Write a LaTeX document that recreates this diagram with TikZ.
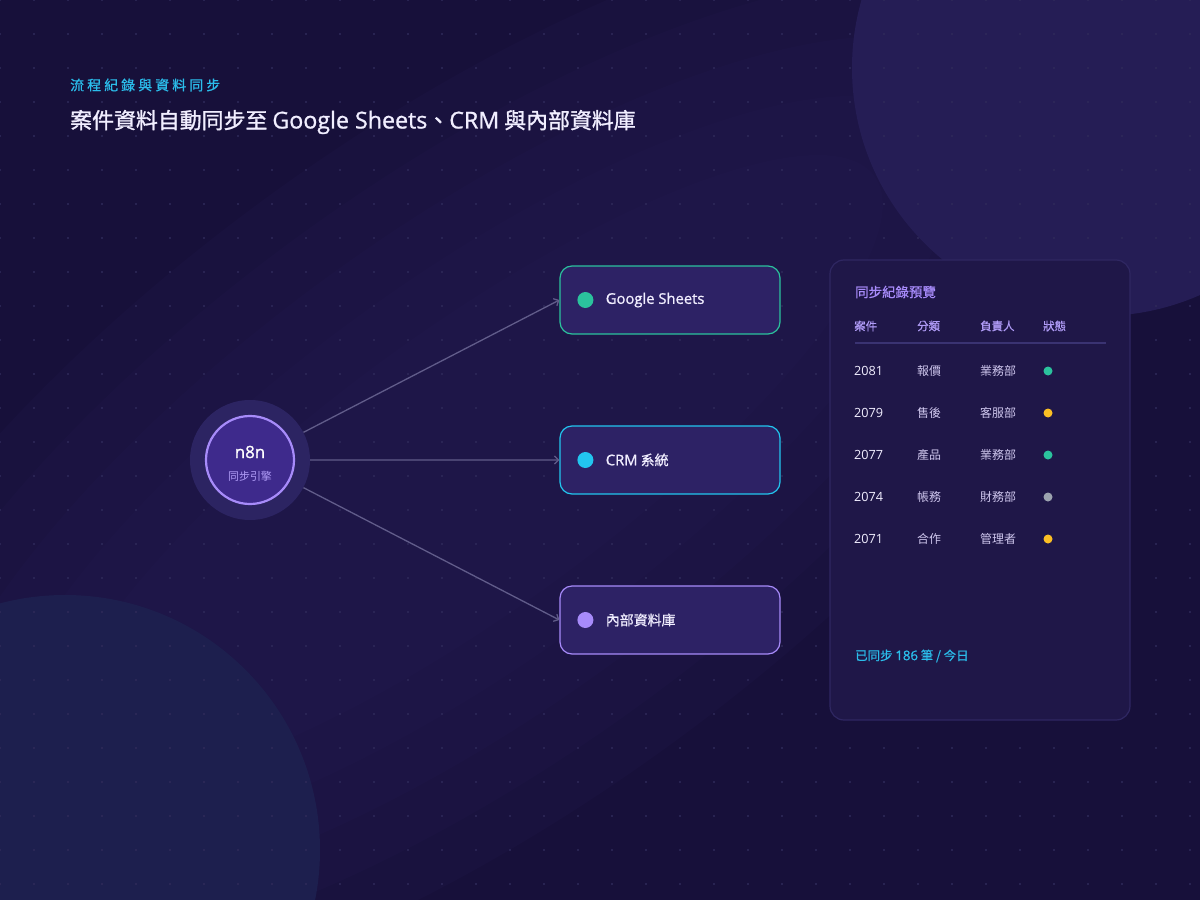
\documentclass[tikz,border=0pt]{standalone}
\usepackage{fontspec}
\setmainfont{Noto Sans CJK TC}
\newfontfamily\latinfont{Open Sans}[Scale=1.06]
\usetikzlibrary{positioning, arrows.meta, shapes.geometric}

\definecolor{bgdark}{HTML}{17103A}
\definecolor{glowviolet}{HTML}{241A50}
\definecolor{blobtop}{HTML}{251D55}
\definecolor{blobbottom}{HTML}{1D1F4E}
\definecolor{griddot}{HTML}{2F2A5A}
\definecolor{boxfill}{HTML}{2D2265}
\definecolor{sheetgreen}{HTML}{2BC29D}
\definecolor{crmcyan}{HTML}{22C6EF}
\definecolor{dbpurple}{HTML}{A78BFA}
\definecolor{linkgray}{HTML}{615C8A}
\definecolor{halofill}{HTML}{2C2462}
\definecolor{corefill}{HTML}{3E2A8C}
\definecolor{panelfill}{HTML}{1F1748}
\definecolor{panelline}{HTML}{2F2762}
\definecolor{headpurple}{HTML}{B09CF7}
\definecolor{rulegray}{HTML}{3A3372}
\definecolor{cellgray}{HTML}{CFC7EE}
\definecolor{idwhite}{HTML}{F1EEFF}
\definecolor{stamber}{HTML}{FBBF24}
\definecolor{stgray}{HTML}{9CA3AF}
\definecolor{skyblue}{HTML}{2BBDEB}

\newcommand{\mediumweight}{\addfontfeature{FakeBold=0.7}}
\newcommand{\westtext}[1]{{\latinfont#1}}
\newcommand{\westmed}[1]{{\latinfont\addfontfeature{FakeBold=1}#1}}

\begin{document}
\begin{tikzpicture}[x=1bp, y=-1bp,
  % Node Styles
  flowbox/.style={rectangle, rounded corners=12bp, draw, line width=1.2bp, fill=boxfill, minimum width=220bp, minimum height=68bp, inner sep=0pt},
  dotmark/.style={circle, inner sep=0pt, minimum size=16bp},
  boxlabel/.style={text=idwhite, font=\fontsize{14}{16}\selectfont\mediumweight, inner sep=0pt, anchor=west},
  cell/.style={inner sep=0pt, anchor=west, font=\fontsize{12}{14}\selectfont, text=cellgray},
  headcell/.style={inner sep=0pt, anchor=west, font=\fontsize{11.5}{14}\selectfont\mediumweight, text=headpurple},
  statusdot/.style={circle, inner sep=0pt, minimum size=9bp},
  % Arrow Styles
  linkarrow/.style={-{Straight Barb[length=4bp, width=8bp]}, line width=1.3bp, linkgray}
]
\useasboundingbox (0,0) rectangle (1200,900);
\clip (0,0) rectangle (1200,900);

% Background
\fill[bgdark] (0,0) rectangle (1200,900);
\foreach \rx/\ry in {820/340, 740/290, 660/240, 580/190, 500/140}
  \fill[glowviolet, opacity=0.2, rotate around={36:(470,470)}] (470,470) ellipse [x radius=\rx, y radius=\ry];
\fill[blobtop] (1100,68) circle (248);
\fill[blobbottom] (65,850) circle (255);
\foreach \gx in {0,34,...,1200}
  \foreach \gy in {0,34,...,900}
    \fill[griddot] (\gx,\gy) circle (1.1);

% Titles
\node[inner sep=0pt, anchor=west, text=skyblue, font=\fontsize{14}{16}\selectfont\mediumweight\addfontfeature{LetterSpace=22}] (Kicker) at (70,85) {流程紀錄與資料同步};
\node[inner sep=0pt, anchor=west, text=idwhite, font=\fontsize{22}{26}\selectfont\addfontfeature{FakeBold=1.3}] (Headline) at (70,122) {案件資料自動同步至 \westmed{Google Sheets}、\westmed{CRM} 與內部資料庫};

% Nodes
\node[circle, fill=halofill, minimum size=120bp, inner sep=0pt] (n8nHalo) at (250,460) {};
\node[circle, draw=dbpurple, line width=2.2bp, fill=corefill, minimum size=88bp, inner sep=0pt] (n8nCore) at (n8nHalo) {};
\node[text=white, font=\fontsize{16}{18}\selectfont, inner sep=0pt] (n8nName) at ([yshift=8bp]n8nCore.center) {\westmed{n8n}};
\node[text=headpurple, font=\fontsize{11}{13}\selectfont, inner sep=0pt] (n8nRole) at ([yshift=-16bp]n8nCore.center) {同步引擎};

\node[flowbox, draw=sheetgreen] (GSheets) at (670,300) {};
\node[flowbox, draw=crmcyan, below=90.8bp of GSheets] (CRM) {};
\node[flowbox, draw=dbpurple, below=90.8bp of CRM] (InternalDB) {};

\node[dotmark, fill=sheetgreen] (GSheetsDot) at ([xshift=26bp]GSheets.west) {};
\node[boxlabel, right=12bp of GSheetsDot] (GSheetsText) {\westmed{Google Sheets}};
\node[dotmark, fill=crmcyan] (CRMDot) at ([xshift=26bp]CRM.west) {};
\node[boxlabel, right=12bp of CRMDot] (CRMText) {\westmed{CRM} 系統};
\node[dotmark, fill=dbpurple] (InternalDBDot) at ([xshift=26bp]InternalDB.west) {};
\node[boxlabel, right=12bp of InternalDBDot] (InternalDBText) {內部資料庫};

% Arrows
\draw[linkarrow] (n8nHalo) -- (GSheets.west);
\draw[linkarrow] (n8nHalo) -- (CRM.west);
\draw[linkarrow] (n8nHalo) -- (InternalDB.west);

% Log panel
\node[rectangle, rounded corners=14bp, draw=panelline, line width=1.2bp, fill=panelfill, minimum width=300bp, minimum height=460bp] (LogPanel) at (980,490) {};
\node[inner sep=0pt, anchor=west, text=dbpurple, font=\fontsize{13.5}{16}\selectfont\mediumweight] (LogTitle) at (855,292) {同步紀錄預覽};

\node[headcell] (HeadId) at (854,326) {案件};
\node[headcell] (HeadCat) at (917,326) {分類};
\node[headcell] (HeadOwner) at (980,326) {負責人};
\node[headcell] (HeadState) at (1043,326) {狀態};
\draw[rulegray, line width=1.5bp] (855,343) -- (1106,343);

\foreach \caseid/\cat/\owner/\state [count=\i] in {2081/報價/業務部/sheetgreen, 2079/售後/客服部/stamber, 2077/產品/業務部/sheetgreen, 2074/帳務/財務部/stgray, 2071/合作/管理者/stamber}{
  \node[cell, text=idwhite] (row\i-id) at (854,329+42*\i) {\westtext{\caseid}};
  \node[cell] (row\i-cat) at (917,329+42*\i) {\cat};
  \node[cell] (row\i-owner) at (980,329+42*\i) {\owner};
  \node[statusdot, fill=\state] (row\i-state) at (1048,329+42*\i) {};
}

\node[inner sep=0pt, anchor=west, text=skyblue, font=\fontsize{12.5}{15}\selectfont\mediumweight] (SyncCount) at (855,656) {已同步 \westmed{186} 筆 / 今日};

\end{tikzpicture}
\end{document}
